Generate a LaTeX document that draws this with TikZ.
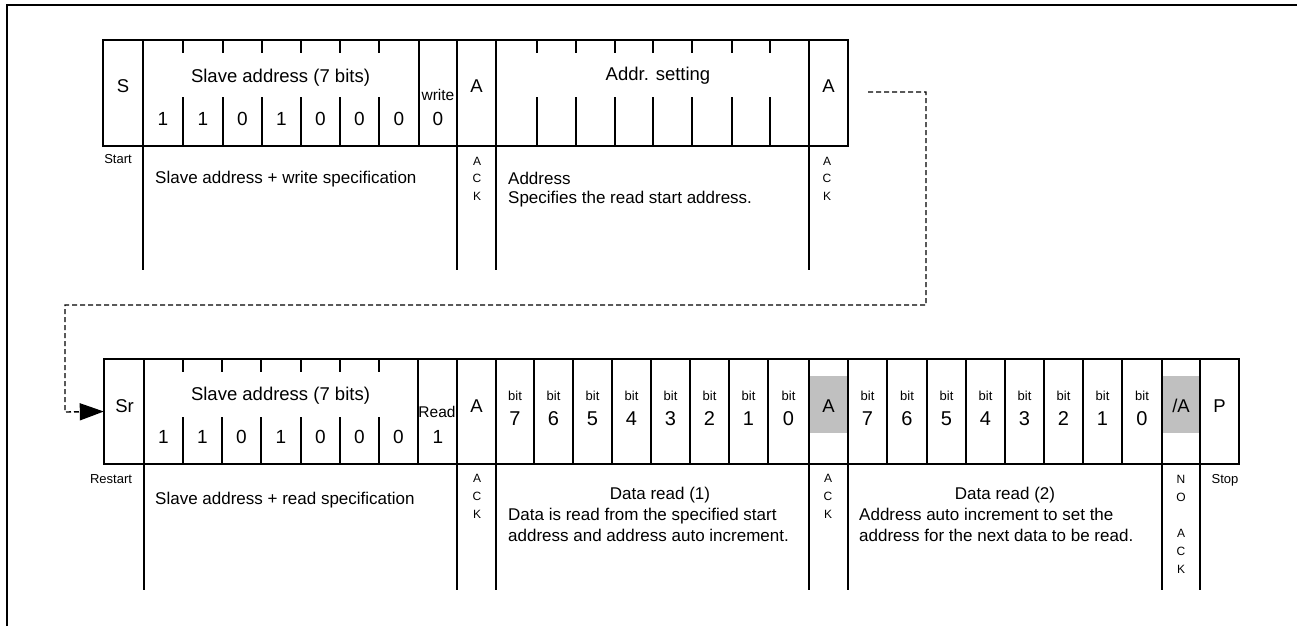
\documentclass[tikz,border=0pt]{standalone}
\usepackage{fontspec}
\setmainfont{Liberation Sans}
\usetikzlibrary{arrows.meta}
\definecolor{ackgray}{HTML}{C0C0C0}
\begin{document}
\begin{tikzpicture}[x=1pt,y=-1pt,
  thickln/.style={line width=2.8pt},
  midln/.style={line width=2.2pt},
  thinln/.style={line width=1.6pt},
  frameln/.style={line width=1.7pt},
  lbl/.style={font=\fontsize{18.5}{20}\selectfont, inner sep=0pt, anchor=base},
  dig/.style={font=\fontsize{19}{21}\selectfont, inner sep=0pt, anchor=base},
  bdig/.style={font=\fontsize{20}{22}\selectfont, inner sep=0pt, anchor=base},
  dsc/.style={font=\fontsize{17}{20}\selectfont, inner sep=0pt, anchor=base west},
  dscc/.style={font=\fontsize{17}{20}\selectfont, inner sep=0pt, anchor=base},
  sml/.style={font=\fontsize{13}{15}\selectfont, inner sep=0pt, anchor=base},
  rw/.style={font=\fontsize{15.5}{17}\selectfont, inner sep=0pt, anchor=base},
  ack/.style={font=\fontsize{12}{14}\selectfont, inner sep=0pt, anchor=base},
  dashconn/.style={line width=1.4pt, dash pattern=on 5pt off 3pt}]
\useasboundingbox (0,0) rectangle (1297,626);

% outer frame (only top and left edges visible)
\draw[frameln] (7.2,626) -- (7.2,4.8) -- (1297,4.8);

% ================= TOP ROW =================
\draw[thickln] (103,40) rectangle (848,146);
\foreach \x in {143,457,496,809} \draw[thickln] (\x,40) -- (\x,270);
\draw[thickln] (419,40) -- (419,146);
\foreach \x in {183,223,262,301,340,379,537,576,615,692,732,770} {
  \draw[thinln] (\x,40) -- (\x,53);
  \draw[thinln] (\x,97) -- (\x,146);
}
\draw[midln] (653,40) -- (653,53);
\draw[midln] (653,97) -- (653,146);

\node[lbl] (tS) at (123,92) {S};
\node[lbl] (tsa) at (280.5,82) {Slave address (7 bits)};
\foreach \x/\d [count=\i] in {163/1,203/1,242.5/0,281.5/1,320.5/0,359.5/0,399/0}
  \node[dig] (tb\i) at (\x,125) {\d};
\node[rw] (tw) at (438,100) {write};
\node[dig] (tw0) at (438,125) {0};
\node[lbl] (tA1) at (476.5,92) {A};
\node[lbl] (tad) at (658,81) {Addr. setting};
\node[lbl] (tA2) at (828.5,92) {A};

\node[sml] (tstart) at (118,163) {Start};
\node[dsc] (tdesc1) at (155,183) {Slave address + write specification};
\foreach \y/\c [count=\i] in {165/A,182.5/C,200/K} {
  \node[ack] (tk1\i) at (477,\y) {\c};
  \node[ack] (tk2\i) at (827,\y) {\c};
}
\node[dsc] (tdesc2a) at (508,184) {Address};
\node[dsc] (tdesc2b) at (508,203) {Specifies the read start address.};

% ================= BOTTOM ROW =================
\fill[ackgray] (809,376) rectangle (848,433);
\fill[ackgray] (1162,376) rectangle (1200,433);
\draw[thickln] (104,359) rectangle (1239,464);
\foreach \x in {144,457,496,809,848,1162,1200} \draw[thickln] (\x,359) -- (\x,590);
\draw[thickln] (418,359) -- (418,464);
\foreach \x in {183,222,261,301,340,379} {
  \draw[thinln] (\x,359) -- (\x,372);
  \draw[thinln] (\x,417) -- (\x,464);
}
\foreach \x in {534,573,612,651,690,729,768,887,927,966,1005,1044,1083,1122}
  \draw[thinln] (\x,359) -- (\x,464);

\node[inner sep=0pt, minimum width=40pt, minimum height=105pt] (srcell) at (124,411.5) {};
\node[lbl] (bSr) at (124.5,412) {Sr};
\node[lbl] (bsa) at (280.5,400) {Slave address (7 bits)};
\foreach \x/\d [count=\i] in {163.5/1,202.5/1,241.5/0,281/1,320.5/0,359.5/0,398.5/0}
  \node[dig] (bb\i) at (\x,443) {\d};
\node[rw] (brd) at (437,417) {Read};
\node[dig] (brd1) at (438,443) {1};
\node[lbl] (bA1) at (476.5,412) {A};
\foreach \x/\d [count=\i] in {515/7,553.5/6,592.5/5,631.5/4,670.5/3,709.5/2,748.5/1,788.5/0} {
  \node[sml] (bbit1\i) at (\x,400) {bit};
  \node[bdig] (bnum1\i) at (\x,425) {\d};
}
\node[lbl] (bA2) at (828.5,412) {A};
\foreach \x/\d [count=\i] in {867.5/7,907/6,946.5/5,985.5/4,1024.5/3,1063.5/2,1102.5/1,1142/0} {
  \node[sml] (bbit2\i) at (\x,400) {bit};
  \node[bdig] (bnum2\i) at (\x,425) {\d};
}
\node[lbl] (bnA) at (1181,412) {/A};
\node[lbl] (bP) at (1219.5,412) {P};

\node[sml] (brestart) at (111,483) {Restart};
\node[dsc] (bdesc1) at (155,504) {Slave address + read specification};
\foreach \y/\c [count=\i] in {482/A,500/C,518/K} {
  \node[ack] (bk1\i) at (477,\y) {\c};
  \node[ack] (bk2\i) at (828,\y) {\c};
}
\node[dscc] (bd1t) at (660,499) {Data read (1)};
\node[dsc] (bd1a) at (508,520) {Data is read from the specified start};
\node[dsc] (bd1b) at (508,541) {address and address auto increment.};
\node[dscc] (bd2t) at (1005,499) {Data read (2)};
\node[dsc] (bd2a) at (859,520) {Address auto increment to set the};
\node[dsc] (bd2b) at (859,541) {address for the next data to be read.};
\foreach \y/\c [count=\i] in {483/N,501/O,537/A,555/C,573/K}
  \node[ack] (bnk\i) at (1181,\y) {\c};
\node[sml] (bstop) at (1225,483) {Stop};

% ================= CONNECTOR =================
\coordinate (cstart) at (868,92);
\draw[dashconn, -{Triangle[length=24pt,width=17pt]}]
  (cstart) -| (926,305) -| (65,412) -- (srcell.west);
\end{tikzpicture}
\end{document}
